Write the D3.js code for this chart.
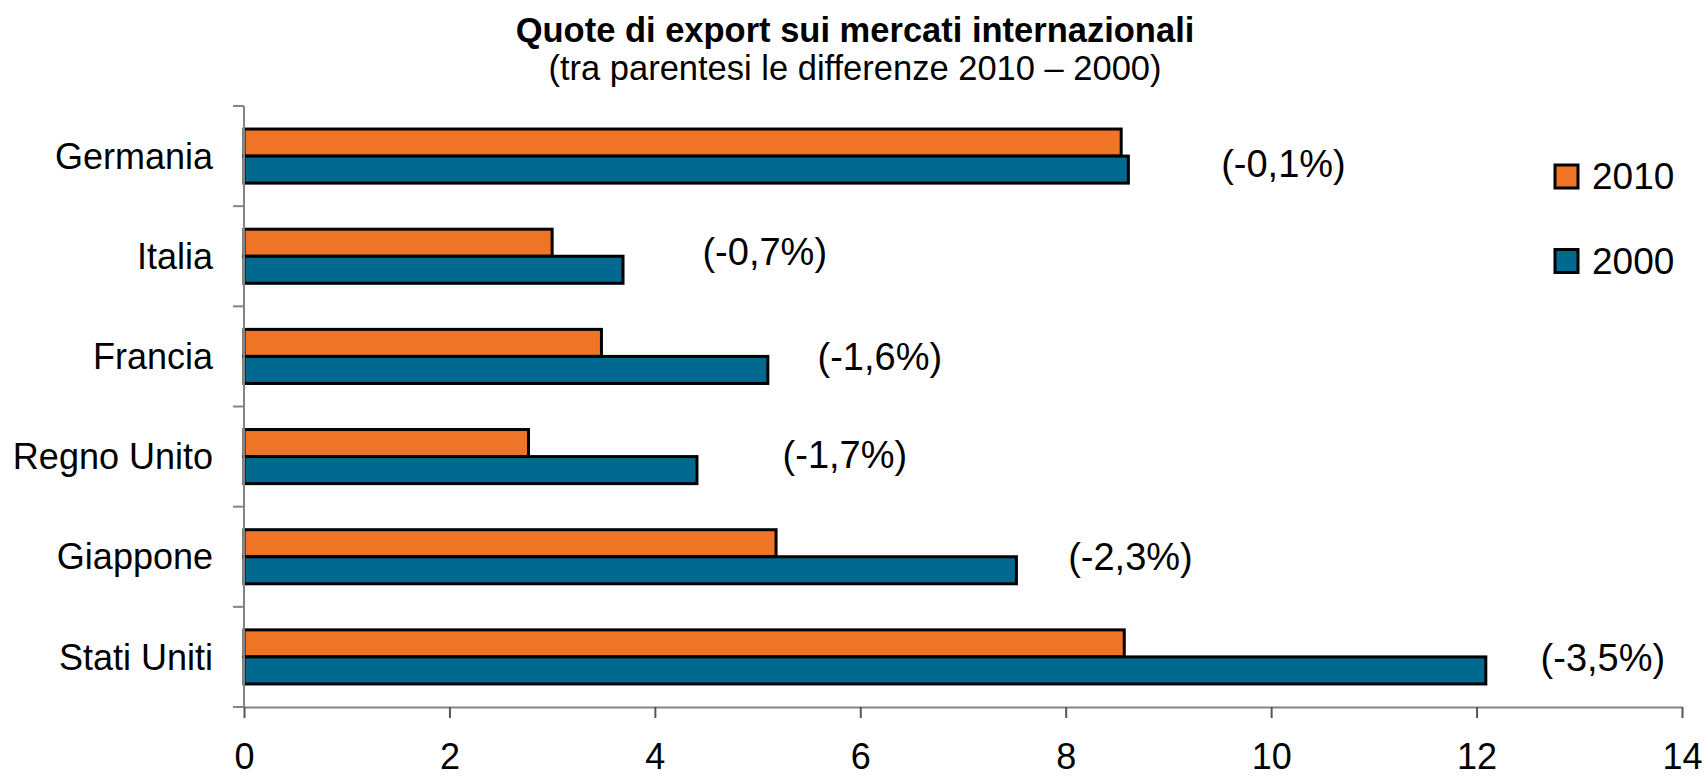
<!DOCTYPE html>
<html>
<head>
<meta charset="utf-8">
<script src="https://cdn.jsdelivr.net/npm/d3@7"></script>
<style>
  html, body { margin: 0; padding: 0; background: #fff; }
  text { font-family: "Liberation Sans", Arial, sans-serif; fill: #000; }
</style>
</head>
<body>
<svg id="chart" width="1708" height="777"></svg>
<script>
// data
const countries = ["Germania", "Italia", "Francia", "Regno Unito", "Giappone", "Stati Uniti"];
const years = ["2010", "2000"];
const values2010 = [8.54, 3.00, 3.48, 2.77, 5.18, 8.57];
const values2000 = [8.61, 3.69, 5.10, 4.41, 7.52, 12.09];
const diffLabels = ["(-0,1%)", "(-0,7%)", "(-1,6%)", "(-1,7%)", "(-2,3%)", "(-3,5%)"];
const xTicks = [0, 2, 4, 6, 8, 10, 12, 14];

class BarChart {
  constructor() {
    this.svg = d3.select("#chart");
    this.colors = { "2010": "#EF7425", "2000": "#006990" };
    this.axisColor = "#848484";
  }

  draw() {
    const svg = this.svg;
    const left = 244, right = 1682, top = 106, bottom = 707;

    const rows = countries.map((c, i) => ({ name: c, "2010": values2010[i], "2000": values2000[i], diff: diffLabels[i] }));

    const x = d3.scaleLinear().domain([0, 14]).range([left, right]);
    const y = d3.scaleBand().domain(countries).range([top, bottom])
      .paddingInner(0.46).paddingOuter(0.23);
    const ySub = d3.scaleBand().domain(years).range([0, y.bandwidth()]);
    const step = y.step();

    // title
    svg.append("text")
      .attr("x", 855).attr("y", 42)
      .attr("text-anchor", "middle")
      .attr("font-size", "34.5px").attr("font-weight", "bold")
      .text("Quote di export sui mercati internazionali");
    svg.append("text")
      .attr("x", 855).attr("y", 80)
      .attr("text-anchor", "middle")
      .attr("font-size", "34.5px")
      .text("(tra parentesi le differenze 2010 \u2013 2000)");

    // bars
    const groups = svg.append("g")
      .selectAll("g")
      .data(rows)
      .enter()
      .append("g")
      .attr("transform", d => "translate(0," + y(d.name) + ")");

    groups.selectAll("rect")
      .data(d => years.map(k => ({ key: k, value: d[k] })))
      .enter()
      .append("rect")
      .attr("x", x(0))
      .attr("y", d => ySub(d.key))
      .attr("width", d => x(d.value) - x(0))
      .attr("height", ySub.bandwidth())
      .attr("fill", d => this.colors[d.key])
      .attr("stroke", "#000")
      .attr("stroke-width", 3);

    // x axis
    const xAxis = svg.append("g")
      .attr("transform", "translate(0," + bottom + ")")
      .call(d3.axisBottom(x).tickValues(xTicks).tickFormat(d3.format("d"))
        .tickSize(11).tickSizeOuter(0).tickPadding(25));
    xAxis.select(".domain").attr("stroke", this.axisColor).attr("stroke-width", 2);
    xAxis.selectAll(".tick line").attr("stroke", "#555").attr("stroke-width", 2);
    xAxis.selectAll(".tick text")
      .attr("font-size", "36px")
      .attr("font-family", "Liberation Sans, Arial, sans-serif")
      .attr("fill", "#000");

    // y axis: line plus ticks at category boundaries
    const yAxis = svg.append("g");
    yAxis.append("line")
      .attr("x1", left).attr("x2", left)
      .attr("y1", top).attr("y2", bottom)
      .attr("stroke", this.axisColor).attr("stroke-width", 2);
    yAxis.selectAll(".ytick")
      .data(d3.range(countries.length + 1))
      .enter()
      .append("line")
      .attr("class", "ytick")
      .attr("x1", left - 11).attr("x2", left)
      .attr("y1", i => top + i * step).attr("y2", i => top + i * step)
      .attr("stroke", this.axisColor).attr("stroke-width", 2);

    // category labels
    svg.append("g")
      .selectAll("text")
      .data(countries)
      .enter()
      .append("text")
      .attr("x", 213)
      .attr("y", d => y(d) + y.bandwidth() / 2)
      .attr("dy", "0.35em")
      .attr("text-anchor", "end")
      .attr("font-size", "36px")
      .text(d => d);

    // difference labels (placed by hand in the original, in axis units)
    const labelAt = [10.12, 5.07, 6.19, 5.85, 8.63, 13.23];
    const labelDy = [21, 9, 14, 11, 13, 14];
    svg.append("g")
      .selectAll("text")
      .data(rows)
      .enter()
      .append("text")
      .attr("x", (d, i) => x(labelAt[i]))
      .attr("y", (d, i) => y(d.name) + y.bandwidth() / 2 + labelDy[i])
      .attr("text-anchor", "middle")
      .attr("font-size", "38px")
      .text(d => d.diff);

    // legend
    const legend = svg.append("g")
      .selectAll("g")
      .data(years)
      .enter()
      .append("g")
      .attr("transform", (d, i) => "translate(1555," + (176.5 + i * 84.5) + ")");
    legend.append("rect")
      .attr("x", 0).attr("y", -11.5)
      .attr("width", 23).attr("height", 23)
      .attr("fill", d => this.colors[d])
      .attr("stroke", "#000").attr("stroke-width", 3);
    legend.append("text")
      .attr("x", 37).attr("y", 0)
      .attr("dy", "0.35em")
      .attr("font-size", "37px")
      .text(d => d);
  }
}

const chart = new BarChart();
chart.draw();
</script>
</body>
</html>
